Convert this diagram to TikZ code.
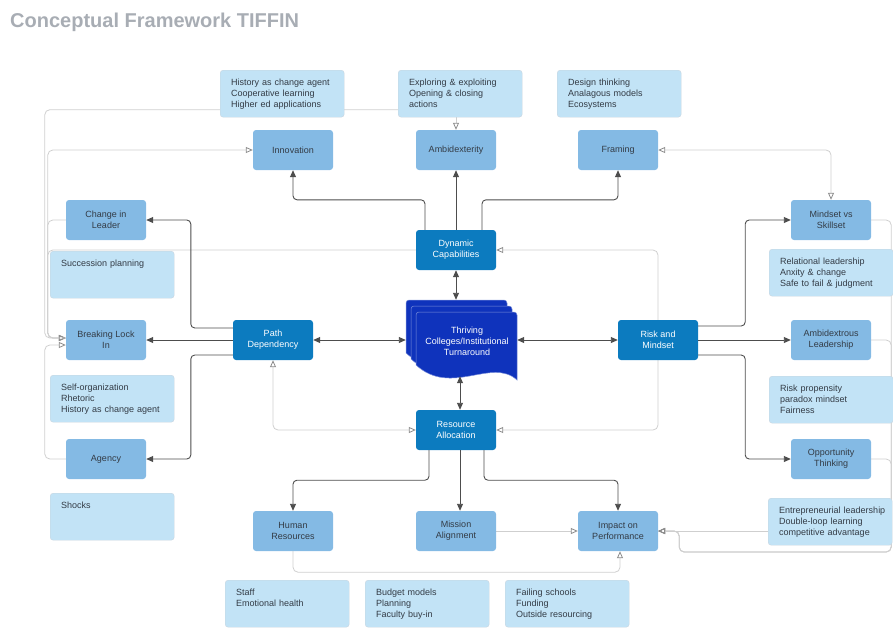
\documentclass[tikz,border=0pt]{standalone}
\usepackage{fontspec}
\setmainfont{Liberation Sans}
\usepackage{tikz}
\usetikzlibrary{
  positioning,
  arrows.meta,
  backgrounds
}
\definecolor{notefill}{HTML}{C2E3F6}
\definecolor{noteline}{HTML}{C9D5DF}
\definecolor{midfill}{HTML}{84BAE4}
\definecolor{darkfill}{HTML}{0C7BBF}
\definecolor{docfill}{HTML}{0F33BC}
\definecolor{titlegray}{HTML}{A8ADB4}
\definecolor{textdark}{HTML}{333B45}
\definecolor{wirecol}{HTML}{4D4D4D}
\definecolor{litecol}{HTML}{CFCFCF}
\tikzset{
  box/.style={rectangle, rounded corners=3pt, minimum width=80pt, minimum height=40pt,
    inner sep=2pt, align=center, font=\fontsize{9}{11}\selectfont},
  mid/.style={box, fill=midfill, text=textdark},
  dark/.style={box, fill=darkfill, text=white},
  note/.style={rectangle, rounded corners=3pt, anchor=north west, fill=notefill, draw=noteline,
    text width=102pt, inner xsep=11pt, inner ysep=5pt, text height=10pt, text depth=27pt,
    align=left, text=textdark, font=\fontsize{9}{11}\selectfont},
  page/.style={fill=docfill, draw=docfill!55!white, line width=0.5pt},
  wire/.style={draw=wirecol, line width=0.9pt, rounded corners=4pt,
    -{Triangle[length=7pt,width=6pt]}},
  wire2/.style={wire, {Triangle[length=7pt,width=6pt]}-{Triangle[length=7pt,width=6pt]}},
  lite/.style={draw=litecol, line width=0.8pt, rounded corners=5pt,
    -{Triangle[open,length=7pt,width=6pt,color=black!45]}},
  lite2/.style={lite, {Triangle[open,length=7pt,width=6pt,color=black!45]}-{Triangle[open,length=7pt,width=6pt,color=black!45]}}
}

\begin{document}
\begin{tikzpicture}[x=1pt, y=-1pt]
    \useasboundingbox (0,0) rectangle (893,627);
    \node[anchor=base west, inner sep=0, text=titlegray, font=\fontsize{20}{24}\selectfont\bfseries] (title) at (10,27) {Conceptual Framework TIFFIN};

    \node[note] (nhist) at (220,70) {History as change agent\\Cooperative learning\\Higher ed applications};
    \node[note] (nexplore) at (398,70) {Exploring \& exploiting\\Opening \& closing\\actions};
    \node[note] (ndesign) at (557,70) {Design thinking\\Analagous models\\Ecosystems};
    \node[note] (nsucc) at (50,251) {Succession planning};
    \node[note] (nself) at (50,375) {Self-organization\\Rhetoric\\History as change agent};
    \node[note] (nshock) at (50,493) {Shocks};
    \node[note] (nrel) at (769,249) {Relational leadership\\Anxity \& change\\Safe to fail \& judgment};
    \node[note] (nrisk) at (769,376) {Risk propensity\\paradox mindset\\Fairness};
    \node[note] (nentre) at (768,498) {\mbox{Entrepreneurial leadership}\\Double-loop learning\\competitive advantage};
    \node[note] (nstaff) at (225,580) {Staff\\Emotional health};
    \node[note] (nbudget) at (365,580) {Budget models\\Planning\\Faculty buy-in};
    \node[note] (nfail) at (505,580) {Failing schools\\Funding\\Outside resourcing};

    \node[mid] (innov) at (293,150) {Innovation};
    \node[mid] (ambidex) at (456,150) {Ambidexterity};
    \node[mid] (framing) at (618,150) {Framing};
    \node[mid] (chleader) at (106,220) {Change in\\Leader};
    \node[mid] (lockin) at (106,340) {Breaking Lock\\In};
    \node[mid] (agency) at (106,459) {Agency};
    \node[mid] (mindset) at (831,220) {Mindset vs\\Skillset};
    \node[mid] (ambilead) at (831,340) {Ambidextrous\\Leadership};
    \node[mid] (opport) at (831,459) {Opportunity\\Thinking};
    \node[mid] (humanres) at (293,531) {Human\\Resources};
    \node[mid] (mission) at (456,531) {Mission\\Alignment};
    \node[mid] (impact) at (618,531) {Impact on\\Performance};

    \node[dark] (dyncap) at (456,250) {Dynamic\\Capabilities};
    \node[dark] (pathdep) at (273,340) {Path\\Dependency};
    \node[dark] (riskmind) at (658,340) {Risk and\\Mindset};
    \node[dark] (resalloc) at (456,430) {Resource\\Allocation};

    \foreach \d in {0,5,10}
        \draw[page] ({406+\d},{353+1.2*\d}) [rounded corners=3pt] -- ({406+\d},{300+1.2*\d})
            -- ({507+\d},{300+1.2*\d}) [sharp corners] -- ({507+\d},{368+1.2*\d})
            .. controls ({482+\d},{345+1.2*\d}) and ({441+\d},{385+1.2*\d}) .. ({406+\d},{353+1.2*\d}) -- cycle;
    \node[minimum width=111pt, minimum height=80pt, inner sep=0] (doc) at (461.5,340) {};
    \node[align=center, text=white, font=\fontsize{9}{11}\selectfont] (thrive) at (467,341) {Thriving\\Colleges/Institutional\\Turnaround};

    \draw[wire] ([xshift=-31pt]dyncap.north) -- ++(0,-30) -| (innov);
    \draw[wire] (dyncap) -- (ambidex);
    \draw[wire] ([xshift=26pt]dyncap.north) -- ++(0,-30) -| (framing);
    \draw[wire2] (dyncap) -- (dyncap |- doc.north);
    \draw[wire2] (pathdep) -- (doc.west |- pathdep);
    \draw[wire2] (doc.east |- riskmind) -- (riskmind);
    \draw[wire2] ([xshift=-1.5pt,yshift=4pt]doc.south) -- ([xshift=4pt]resalloc.north);
    \draw[wire] ([yshift=12pt]pathdep.west) -- ++(-42,0) |- (chleader);
    \draw[wire] (pathdep) -- (lockin);
    \draw[wire] ([yshift=-15pt]pathdep.west) -- ++(-42,0) |- (agency);
    \draw[wire] ([yshift=14pt]riskmind.east) -- ++(47,0) |- (mindset);
    \draw[wire] (riskmind) -- (ambilead);
    \draw[wire] ([yshift=-15pt]riskmind.east) -- ++(47,0) |- (opport);
    \draw[wire] ([xshift=-27pt]resalloc.south) -- ++(0,30) -| (humanres);
    \draw[wire] ([xshift=4pt]resalloc.south) -- ([xshift=4pt]mission.north);
    \draw[wire] ([xshift=28pt]resalloc.south) -- ++(0,30) -| (impact);

    \begin{scope}[on background layer]
        \draw[lite] (ambidex |- nexplore.south) -- (ambidex);
        \draw[lite] ([yshift=-16pt]nexplore.west) -| ([xshift=-21pt,yshift=2pt]lockin.west) -- ([yshift=2pt]lockin.west);
        \draw[lite] (dyncap) -| ([xshift=-18pt,yshift=2pt]lockin.west) -- ([yshift=2pt]lockin.west);
        \draw[lite] (chleader) -| ([xshift=-18pt,yshift=2pt]lockin.west) -- ([yshift=2pt]lockin.west);
        \draw[lite] (agency) -| ([xshift=-21pt,yshift=-5pt]lockin.west) -- ([yshift=-5pt]lockin.west);
        \draw[lite] ([yshift=2pt]lockin.west) -- ++(-18,0) |- (innov);
        \draw[lite] (riskmind) |- (dyncap);
        \draw[lite] (riskmind) |- (resalloc);
        \draw[lite2] (pathdep) |- (resalloc);
        \draw[lite2] (mindset) |- (framing);
        \draw[lite] (mindset.east) -- ++(20,0) |- ([xshift=21pt,yshift=-21pt]impact.east) |- (impact.east);
        \draw[lite] (ambilead.east) -- ++(20,0) |- ([xshift=21pt,yshift=-21pt]impact.east) |- (impact.east);
        \draw[lite] (opport.east) -- ++(20,0) |- ([xshift=21pt,yshift=-21pt]impact.east) |- (impact.east);
        \draw[lite] (impact -| nentre.west) -- (impact);
        \draw[lite] (mission) -- (impact);
        \draw[lite] (humanres.south) -- ++(0,21) -| ([xshift=2pt]impact.south);
    \end{scope}
\end{tikzpicture}
\end{document}
